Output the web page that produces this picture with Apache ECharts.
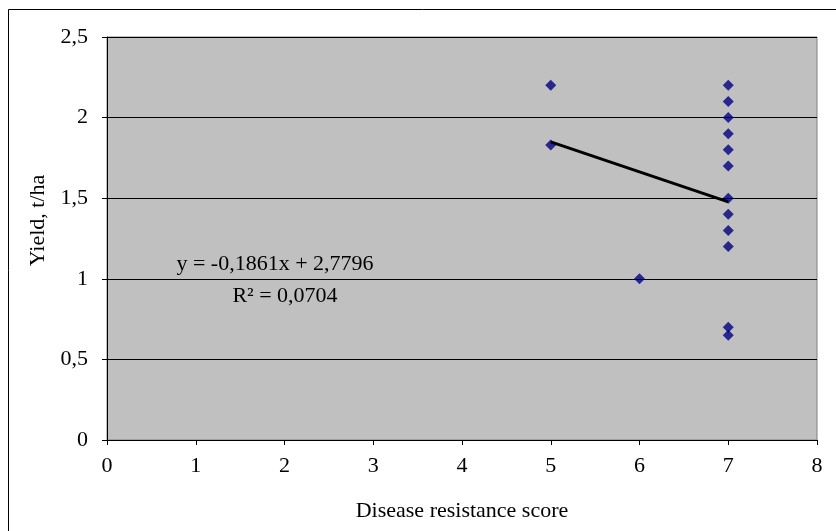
<!DOCTYPE html>
<html>
<head>
<meta charset="utf-8">
<script src="https://cdn.jsdelivr.net/npm/echarts@6/dist/echarts.min.js"></script>
<style>
  html, body { margin: 0; padding: 0; background: #fff; }
  #chart { width: 836px; height: 531px; }
</style>
</head>
<body>
<div id="chart"></div>
<script>
var FONT = "'Liberation Serif', 'Times New Roman', serif";
var FS = 22;

// observed points: disease resistance score vs yield
var scoreX = [5, 5, 6, 7, 7, 7, 7, 7, 7, 7, 7, 7, 7, 7, 7];
var yieldY = [2.2, 1.83, 1.0, 2.2, 2.1, 2.0, 1.9, 1.8, 1.7, 1.5, 1.4, 1.3, 1.2, 0.7, 0.65];

// linear trend from the picture
var slope = -0.1861;
var intercept = 2.7796;
var trendX = [5, 7];
var equationText = "y = -0,1861x + 2,7796";
var r2Text = "R² = 0,0704";

var comma = (v) => String(v).replace(".", ",");

var chart = echarts.init(document.getElementById("chart"));

var option = {
  backgroundColor: "#fff",
  animation: false,
  textStyle: { fontFamily: FONT },
  grid: {
    left: 107,
    right: 19,
    top: 37,
    bottom: 91,
    outerBoundsMode: "none",
    containLabel: false,
    show: true,
    backgroundColor: "#c0c0c0",
    borderColor: "#808080",
    borderWidth: 1,
  },
  xAxis: {
    type: "value",
    min: 0,
    max: 8,
    interval: 1,
    name: "Disease resistance score",
    nameLocation: "middle",
    nameGap: 60,
    nameTextStyle: { fontFamily: FONT, fontSize: FS, color: "#000" },
    axisLine: { show: true, onZero: false, lineStyle: { color: "#000", width: 1 } },
    axisTick: { show: true, length: 5, lineStyle: { color: "#000" } },
    axisLabel: { fontFamily: FONT, fontSize: FS, color: "#000", margin: 15 },
    splitLine: { show: false },
  },
  yAxis: {
    type: "value",
    min: 0,
    max: 2.5,
    interval: 0.5,
    name: "Yield, t/ha",
    nameLocation: "middle",
    nameGap: 58,
    nameRotate: 90,
    nameTextStyle: {
      fontFamily: FONT,
      fontSize: FS,
      color: "#000",
      padding: [0, 0, 0, 36],
    },
    axisLine: { show: true, lineStyle: { color: "#000", width: 1 } },
    axisTick: { show: true, length: 5, lineStyle: { color: "#000" } },
    axisLabel: {
      fontFamily: FONT,
      fontSize: FS,
      color: "#000",
      margin: 19,
      formatter: comma,
    },
    splitLine: { show: true, lineStyle: { color: "#000", width: 1 } },
  },
  graphic: [
    {
      type: "rect",
      shape: { x: 8.5, y: 9.5, width: 840, height: 540 },
      style: { fill: "none", stroke: "#000", lineWidth: 1 },
      z: 100,
    },
    {
      type: "text",
      x: 275,
      y: 264,
      style: {
        text: equationText,
        font: FS + "px " + FONT,
        fill: "#000",
        textAlign: "center",
        textVerticalAlign: "middle",
      },
      z: 100,
    },
    {
      type: "text",
      x: 285,
      y: 296,
      style: {
        text: r2Text,
        font: FS + "px " + FONT,
        fill: "#000",
        textAlign: "center",
        textVerticalAlign: "middle",
      },
      z: 100,
    },
  ],
  series: [
    {
      type: "scatter",
      symbol: "diamond",
      symbolSize: 11,
      itemStyle: { color: "#000080" },
      data: scoreX.map((x, i) => [x, yieldY[i]]),
      z: 3,
    },
    {
      type: "line",
      showSymbol: false,
      symbol: "none",
      lineStyle: { color: "#000", width: 3 },
      data: trendX.map((x) => [x, slope * x + intercept]),
      z: 4,
    },
  ],
};

chart.setOption(option);
</script>
</body>
</html>
